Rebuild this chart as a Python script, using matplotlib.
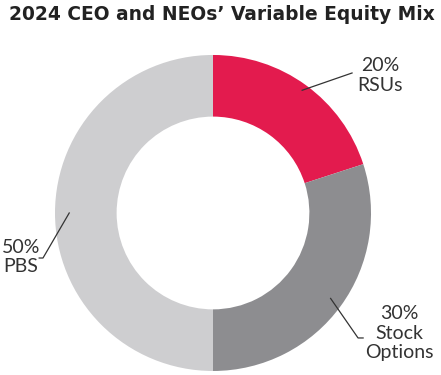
import numpy as np
import matplotlib.pyplot as plt

# datos del grafico
labels = ['RSUs', 'Stock\nOptions', 'PBS']
shares = [20, 30, 50]
colors = ['#E31B4E', '#8D8D90', '#CECED0']

title = "2024 CEO and NEOs\u2019 Variable Equity Mix"

plt.rcParams['font.family'] = ['Lato', 'DejaVu Sans']

fig = plt.figure(figsize=(4.41, 3.75), dpi=100)
ax = fig.add_axes([0.1247, 0.0107, 0.7166, 0.8427])

wedges, _ = ax.pie(shares, colors=colors, startangle=90, counterclock=False,
                   radius=1.0, wedgeprops=dict(width=0.39, edgecolor='none'))
ax.set_xlim(-1, 1)
ax.set_ylim(-1, 1)
ax.set_aspect('equal')
ax.axis('off')

# posiciones de las etiquetas (linea guia y texto)
leader = [
    [(0.88, 0.886)],
    [(0.918, -0.791), (0.95, -0.791)],
    [(-1.076, -0.285), (-1.10, -0.285)],
]
start_r = [0.96, 0.92, 0.91]
text_pos = [(1.06, 0.87), (1.18, -0.76), (-1.215, -0.28)]

for w, lab, val, pts, r0, tp in zip(wedges, labels, shares, leader, start_r, text_pos):
    ang = np.deg2rad((w.theta1 + w.theta2) / 2)
    xs = [r0 * np.cos(ang)] + [p[0] for p in pts]
    ys = [r0 * np.sin(ang)] + [p[1] for p in pts]
    ax.plot(xs, ys, color='#333333', lw=0.9, clip_on=False)
    ax.text(tp[0], tp[1], f"{val}%\n{lab}", ha='center', va='center',
            fontsize=14, color='#333333', linespacing=1.15, clip_on=False)

fig.text(0.502, 0.962, title, ha='center', va='center', fontsize=13.4,
         fontweight='bold', color='#222222', family='DejaVu Sans')

fig.savefig('out.png', dpi=100)
